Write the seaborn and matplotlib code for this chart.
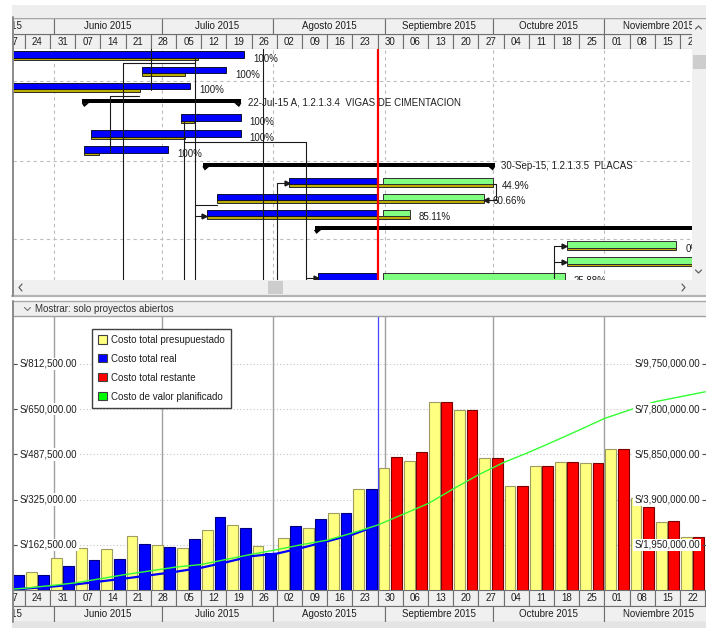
import matplotlib
matplotlib.use("Agg")
import matplotlib.pyplot as plt
import matplotlib.dates as mdates
from matplotlib.patches import Rectangle, Patch
from matplotlib.lines import Line2D
import pandas as pd
import seaborn as sns

# ---------------- histogram data (weekly cost, S/) ----------------
budget_weeks = pd.date_range("2015-05-24", "2015-11-22", freq="7D")
budget_cost = [65000, 114000, 150000, 146000, 194000, 162000, 150000, 217000, 234000,
               157000, 188000, 224000, 278000, 364000, 437000, 464000, 677000, 648000,
               473000, 373000, 447000, 460000, 456000, 506000, 330000, 243000, 190000]

actual_weeks = pd.date_range("2015-05-17", "2015-08-23", freq="7D")
actual_cost = [53000, 53000, 85000, 108000, 111000, 166000, 153000, 182000, 261000,
               224000, 134000, 231000, 256000, 276000, 364000]

remaining_weeks = pd.date_range("2015-08-30", "2015-11-22", freq="7D")
remaining_cost = [479000, 496000, 677000, 648000, 473000, 373000, 447000, 460000,
                  456000, 506000, 298000, 248000, 190000]

# cumulative curves (right axis)
planned_dates = pd.date_range("2015-05-17", "2015-11-29", freq="7D")
planned_cum = [0, 77000, 188000, 308000, 487000, 669000, 829000, 990000, 1100000,
               1320000, 1540000, 1740000, 1960000, 2150000, 2460000, 2800000, 3263000,
               3726000, 4360000, 4970000, 5500000, 5940000, 6415000, 6900000, 7400000,
               7766000, 8120000, 8335000, 8550000]
actual_cum_dates = pd.date_range("2015-05-17", "2015-08-30", freq="7D")
actual_cum = [0, 60000, 140000, 240000, 370000, 500000, 640000, 790000, 960000,
              1200000, 1460000, 1570000, 1820000, 2100000, 2390000, 2790000]

left_ticks = [162500, 325000, 487500, 650000, 812500]
right_ticks = [1950000, 3900000, 5850000, 7800000, 9750000]

legend_labels = ["Costo total presupuestado", "Costo total real",
                 "Costo total restante", "Costo de valor planificado"]
legend_colors = ["#FFFF80", "#0000FF", "#FF0000", "#00FF00"]

month_names = ["Mayo", "Junio", "Julio", "Agosto", "Septiembre", "Octubre",
               "Noviembre", "Diciembre"]
week_starts = pd.date_range("2015-05-17", "2015-11-29", freq="7D")
month_starts = pd.date_range("2015-05-01", "2016-01-01", freq="MS")
data_date = "2015-08-30"

# ---------------- gantt data ----------------
task_rows = [0, 1, 2, 4, 5, 6, 8, 9, 10, 12, 13, 14]
actual_start = ["2015-05-01", "2015-06-25 12:00", "2015-05-01", "2015-07-06 12:00",
                "2015-06-11 12:00", "2015-06-09 12:00", "2015-08-05 12:00",
                "2015-07-16 12:00", "2015-07-13 12:00", None, None, "2015-08-13 12:00"]
actual_finish = ["2015-07-24", "2015-07-19", "2015-07-09", "2015-07-23", "2015-07-23",
                 "2015-07-02 18:00", "2015-08-30", "2015-08-30", "2015-08-30",
                 None, None, "2015-08-30"]
remain_start = [None, None, None, None, None, None, "2015-08-31 12:00",
                "2015-08-31 12:00", "2015-08-31 12:00", "2015-10-21 12:00",
                "2015-10-21 12:00", "2015-08-31 12:00"]
remain_finish = [None, None, None, None, None, None, "2015-10-01", "2015-09-28 12:00",
                 "2015-09-08", "2015-11-21", "2016-01-15", "2015-10-21"]
base_start = ["2015-05-01", "2015-06-25 12:00", "2015-05-01", "2015-07-06 12:00",
              "2015-06-11 12:00", "2015-06-09 12:00", "2015-08-05 12:00",
              "2015-07-16 12:00", "2015-07-13 12:00", "2015-10-21 12:00",
              "2015-10-21 12:00", "2015-08-13 12:00"]
base_finish = ["2015-07-11", "2015-07-07 12:00", "2015-06-25", "2015-07-10",
               "2015-07-07 12:00", "2015-06-13 12:00", "2015-10-01", "2015-09-28 12:00",
               "2015-09-08", "2015-11-21", "2016-01-15", "2015-10-21"]
pct_labels = ["100%", "100%", "100%", "100%", "100%", "100%", "44.9%", "60.66%",
              "85.11%", "0%", "", "25.88%"]

summary_rows = [3, 7, 11]
summary_start = ["2015-06-09", "2015-07-12 12:00", "2015-08-12 12:00"]
summary_finish = ["2015-07-23", "2015-10-01 12:00", "2016-02-01"]
summary_labels = ["22-Jul-15 A, 1.2.1.3.4  VIGAS DE CIMENTACION",
                  "30-Sep-15, 1.2.1.3.5  PLACAS", ""]

# relationship lines: vertical lanes and horizontal legs
lane_dates = ["2015-06-20 07:00", "2015-06-16 17:00", "2015-06-28 02:00",
              "2015-07-07 05:00", "2015-07-10 07:00", "2015-07-29 05:00",
              "2015-08-02 02:00", "2015-08-10 02:00", "2015-10-01 19:00",
              "2015-10-18 02:00"]
lane_top = [0.45, 2.53, -0.5, 4.17, 0.08, -0.5, 8.02, 5.43, 8.1, 12.0]
lane_bottom = [14.5, 6.15, 2.2, 14.5, 14.5, 14.5, 14.5, 14.5, 9.1, 14.0]
leg_rows = [0.45, 2.53, 5.43, 8.02, 9.43, 10.12, 14.03, 8.1, 9.1, 12.0, 13.0]
leg_from = ["2015-06-20 07:00", "2015-06-16 17:00", "2015-07-07 05:00",
            "2015-08-02 02:00", "2015-07-10 07:00", "2015-07-10 07:00",
            "2015-08-10 02:00", "2015-10-01", "2015-10-01 19:00",
            "2015-10-18 02:00", "2015-10-18 02:00"]
leg_to = ["2015-07-10 07:00", "2015-06-24 17:00", "2015-08-10 02:00",
          "2015-08-05 12:00", "2015-07-16 12:00", "2015-07-13 12:00",
          "2015-08-13 12:00", "2015-10-01 19:00", "2015-09-28 12:00",
          "2015-10-21 12:00", "2015-10-21 12:00"]
leg_arrow = [False, False, False, True, False, True, True, False, True, True, True]


def dn(v):
    return mdates.date2num(pd.to_datetime(v))


# ---------------- layout ----------------
W, H = 706, 628
PX_DAY = 3.6
ORIGIN = dn("2015-05-31")          # sits at x = 50 px
X0 = ORIGIN - 37 / PX_DAY
XG1 = ORIGIN + 642 / PX_DAY
XH1 = ORIGIN + 656 / PX_DAY
YMAX = 162500 * 274 / 45.2

sns.set_theme(style="white")
plt.rcParams["font.family"] = ["Liberation Sans", "DejaVu Sans"]
plt.rcParams["font.size"] = 7
TXT = "#1e1e1e"
HDR = "#F0F0F0"
HDR_EDGE = "#6F6F6F"

fig = plt.figure(figsize=(W / 100, H / 100), dpi=100)
fig.patch.set_facecolor("white")


def box(x0, y0, x1, y1):
    return [x0 / W, 1 - y1 / H, (x1 - x0) / W, (y1 - y0) / H]


def prect(x0, y0, x1, y1, **kw):
    kw.setdefault("lw", 0)
    fig.add_artist(Rectangle((x0 / W, 1 - y1 / H), (x1 - x0) / W, (y1 - y0) / H,
                             transform=fig.transFigure, **kw))


def pline(xs, ys, **kw):
    fig.add_artist(Line2D([x / W for x in xs], [1 - y / H for y in ys],
                          transform=fig.transFigure, **kw))


def timescale(axt, week_row, month_row, xmax):
    axt.set_xlim(X0, xmax)
    axt.set_ylim(0, 2)
    axt.set_axis_off()
    for ws in week_starts:
        x = dn(ws)
        axt.add_patch(Rectangle((x, week_row), 7, 1, fc=HDR, ec=HDR_EDGE, lw=0.8))
        axt.text(x + 3.5, week_row + 0.48, ws.strftime("%d"), ha="center",
                 va="center", color=TXT, clip_on=True, clip_box=axt.bbox)
    for name, ms, me in zip(month_names, month_starts[:-1], month_starts[1:]):
        a, b = dn(ms), dn(me)
        axt.add_patch(Rectangle((a, month_row), b - a, 1, fc=HDR, ec=HDR_EDGE, lw=0.8))
        axt.text((a + b) / 2, month_row + 0.48, f"{name} 2015", ha="center",
                 va="center", color=TXT, clip_on=True, clip_box=axt.bbox)


# ---------------- window chrome ----------------
prect(12, 5, 706, 17, fc="#EEEEEE")
pline([12, 706], [17.5, 17.5], color="#A8A8A8", lw=1)
prect(692, 18, 706, 280, fc="#F0F0F0")
prect(693, 55, 706, 69, fc="#CDCDCD")
pline([695.5, 698.5, 701.5], [29, 26, 29], color="#606060", lw=0.9)
pline([695.5, 698.5, 701.5], [270, 273, 270], color="#606060", lw=0.9)
prect(13, 280, 706, 295, fc="#F0F0F0")
prect(268, 281, 283, 294, fc="#CDCDCD")
pline([22, 19, 22], [284, 287.5, 291], color="#606060", lw=0.9)
pline([682, 685, 682], [284, 287.5, 291], color="#606060", lw=0.9)
pline([12, 706], [296, 296], color="#B4B4B4", lw=1.6)
pline([12, 706], [301, 301], color="#A8A8A8", lw=1)
prect(13, 302, 706, 316, fc="#EFEFEF")
pline([13, 706], [316, 316], color="#A0A0A0", lw=1)
pline([24.5, 27.5, 30.5], [307.5, 310.5, 307.5], color="#707070", lw=0.8)
fig.text(35 / W, 1 - 309 / H, "Mostrar: solo proyectos abiertos", ha="left",
         va="center", color="#303030", fontsize=7)
pline([12.5, 12.5], [17, 296], color="#8A8A8A", lw=1.4)
pline([12.5, 12.5], [301, 622], color="#8A8A8A", lw=1.4)
prect(12, 622, 706, 628, fc="#E4E4E4")

# ---------------- top timescale ----------------
axt = fig.add_axes(box(13, 18, 692, 49))
timescale(axt, week_row=0, month_row=1, xmax=XG1)

# ---------------- gantt ----------------
axg = fig.add_axes(box(13, 49, 692, 280))
axg.set_xlim(X0, XG1)
axg.set_ylim(14.155, -0.41)
axg.set_axis_off()

for ms in month_starts[1:-1]:
    axg.axvline(dn(ms), color="#BDBDBD", lw=0.8, ls=(0, (3, 3)), zorder=0)
for r in [1.61, 6.65, 11.57]:
    axg.axhline(r, color="#BDBDBD", lw=0.8, ls=(0, (3, 3)), zorder=0)

for i, r in enumerate(task_rows):
    bs, bf = dn(base_start[i]), dn(base_finish[i])
    axg.barh(r + 0.205, bf - bs, left=bs, height=0.158, color="#BCAC00",
             edgecolor="#2a2a2a", lw=0.7, zorder=2)
    ends = []
    if actual_start[i]:
        s, f = dn(actual_start[i]), dn(actual_finish[i])
        axg.barh(r - 0.079, f - s, left=s, height=0.41, color="#0000FF",
                 edgecolor="#101030", lw=0.7, zorder=2)
        ends.append(f)
    if remain_start[i]:
        s, f = dn(remain_start[i]), dn(remain_finish[i])
        axg.barh(r - 0.079, f - s, left=s, height=0.41, color="#80FF80",
                 edgecolor="#303030", lw=0.7, zorder=2)
        ends.append(f)
    axg.text(max(ends) + 2.5, r + 0.2, pct_labels[i], ha="left", va="center",
             color=TXT, clip_on=True, clip_box=axg.bbox, zorder=4)

tri_w = 6.5 / PX_DAY
for r, s, f, lab in zip(summary_rows, summary_start, summary_finish, summary_labels):
    s, f = dn(s), dn(f)
    axg.barh(r - 0.126, f - s, left=s, height=0.252, color="black", lw=0, zorder=3)
    for xo, sg in [(s, 1), (f, -1)]:
        axg.fill([xo - sg * 0.2, xo + sg * tri_w, xo + sg * 0.5], [r, r, r + 0.25],
                 color="black", lw=0, zorder=3)
    axg.text(f + 1.9, r - 0.06, lab, ha="left", va="center", color=TXT,
             clip_on=True, clip_box=axg.bbox, zorder=4)

for d, t, b in zip(lane_dates, lane_top, lane_bottom):
    axg.plot([dn(d), dn(d)], [t, b], color="#1a1a1a", lw=0.8, zorder=3)
for r, a, b, arr in zip(leg_rows, leg_from, leg_to, leg_arrow):
    a, b = dn(a), dn(b)
    axg.plot([a, b], [r, r], color="#1a1a1a", lw=0.8, zorder=3)
    if arr:
        axg.plot(b - (0.6 if b > a else -0.6), r, marker=">" if b > a else "<",
                 ms=3.5, color="#1a1a1a", zorder=3)

axg.axvline(dn(data_date), color="#FF0000", lw=1.6, zorder=5)

# ---------------- histogram ----------------
axh = fig.add_axes(box(13, 316, 706, 590))
axh.set_facecolor("white")
for t in left_ticks:
    axh.axhline(t, color="#C4C4C4", lw=0.8, ls=(0, (1, 2)), zorder=0.3)
for ms in month_starts[1:-1]:
    axh.axvline(dn(ms), color="#A0A0A0", lw=1.0, zorder=0.4)
axh.axvline(dn(data_date) + 0.1, color="#4646FF", lw=0.9, zorder=0.5)

bar_w = 3.0 / 7
sns.barplot(x=dn(budget_weeks) + 1.8, y=budget_cost, orient="x", native_scale=True,
            width=bar_w, color="#FFFF80", saturation=1, edgecolor="#9E9C62",
            linewidth=0.8, errorbar=None, ax=axh)
sns.barplot(x=dn(actual_weeks) + 5.2, y=actual_cost, orient="x", native_scale=True,
            width=bar_w, color="#0000FF", saturation=1, edgecolor="#00007A",
            linewidth=0.8, errorbar=None, ax=axh)
sns.barplot(x=dn(remaining_weeks) + 5.2, y=remaining_cost, orient="x",
            native_scale=True, width=bar_w, color="#FF0000", saturation=1,
            edgecolor="#7A0000", linewidth=0.8, errorbar=None, ax=axh)

ax2 = axh.twinx()
sns.lineplot(x=dn(actual_cum_dates), y=actual_cum, color="#0000FF", lw=1.6, ax=ax2)
sns.lineplot(x=dn(planned_dates), y=planned_cum, color="#33FF33", lw=1.0, ax=ax2)

axh.set_xlim(X0, XH1)
axh.set_ylim(0, YMAX)
ax2.set_ylim(0, YMAX * 12)
axh.set_xticks([])
axh.set_yticks(left_ticks)
ax2.set_yticks(right_ticks)
axh.tick_params(axis="y", direction="in", length=3, width=0.8, colors="#505050",
                left=True, labelleft=False)
ax2.tick_params(axis="y", direction="in", length=3, width=0.8, colors="#505050",
                right=True, labelright=False)
for a in (axh, ax2):
    a.set_xlabel("")
    a.set_ylabel("")
    for s in a.spines.values():
        s.set_visible(False)

lbl_box = dict(boxstyle="square,pad=0.12", fc="white", ec="none")
for t in left_ticks:
    ax2.text(7 / 693, t, f"S/{t:,.2f}", transform=axh.get_yaxis_transform(),
             ha="left", va="center", color=TXT, bbox=lbl_box, zorder=4)
for t in right_ticks:
    ax2.text(687 / 693, t, f"S/{t:,.2f}", transform=ax2.get_yaxis_transform(),
             ha="right", va="center", color=TXT, bbox=lbl_box, zorder=4)

handles = [Patch(facecolor=c, edgecolor="#404040", lw=0.8) for c in legend_colors]
leg = ax2.legend(handles, legend_labels, loc="upper left",
                 bbox_to_anchor=((92 - 13) / 693, (590 - 329) / 274),
                 borderaxespad=0, frameon=True, fancybox=False, framealpha=1,
                 edgecolor="#404040", fontsize=7, handlelength=0.9,
                 handleheight=0.9, handletextpad=0.45, labelspacing=0.92,
                 borderpad=0.6)
leg.get_frame().set_linewidth(1.0)
leg.set_zorder(6)
for txt in leg.get_texts():
    txt.set_color(TXT)

# ---------------- bottom timescale ----------------
axb = fig.add_axes(box(13, 590, 706, 622))
timescale(axb, week_row=1, month_row=0, xmax=XH1)

fig.savefig("out.png", dpi=100)
